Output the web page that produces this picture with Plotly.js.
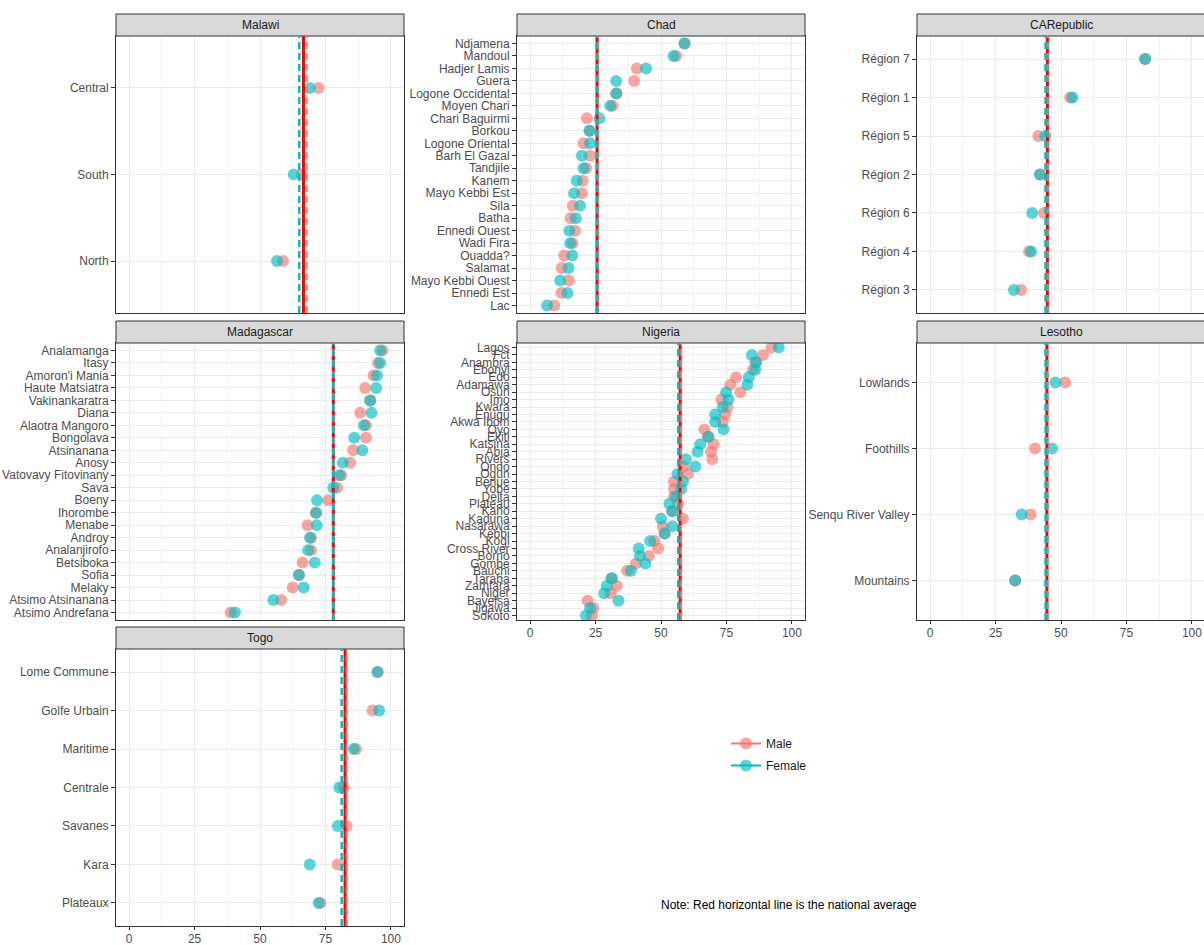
<!DOCTYPE html>
<html><head><meta charset="utf-8">
<script src="https://cdn.plot.ly/plotly-3.0.1.min.js"></script>
<style>html,body{margin:0;padding:0;overflow:hidden;background:#fff}#chart{width:1210px;height:945px}</style>
</head><body><div id="chart"></div>
<script>
// ---------------- DATA ----------------
const countries = ["Malawi","Chad","CARepublic","Madagascar","Nigeria","Lesotho","Togo"];

const malawiRegions = ["Central","South","North"];
const malawiMale    = [72.4, 65.9, 58.8];
const malawiFemale  = [69.0, 62.9, 56.5];

const chadRegions = ["Ndjamena","Mandoul","Hadjer Lamis","Guera","Logone Occidental","Moyen Chari","Chari Baguirmi","Borkou","Logone Oriental","Barh El Gazal","Tandjile","Kanem","Mayo Kebbi Est","Sila","Batha","Ennedi Ouest","Wadi Fira","Ouadda?","Salamat","Mayo Kebbi Ouest","Ennedi Est","Lac"];
const chadMale   = [59.0, 55.8, 40.8, 39.8, 33.0, 31.5, 21.7, 22.7, 20.4, 22.9, 21.4, 20.1, 19.8, 16.3, 15.5, 17.2, 16.2, 13.0, 12.1, 14.8, 12.0, 9.2];
const chadFemale = [59.0, 54.8, 44.3, 32.9, 32.9, 30.6, 26.5, 22.7, 22.9, 19.8, 20.4, 17.8, 16.8, 19.1, 17.5, 15.0, 15.3, 16.1, 14.7, 11.5, 14.3, 6.5];

const carRegions = ["Région 7","Région 1","Région 5","Région 2","Région 6","Région 4","Région 3"];
const carMale    = [82.0, 53.5, 41.3, 42.0, 43.5, 37.8, 34.8];
const carFemale  = [82.2, 54.4, 44.0, 42.0, 39.0, 38.6, 32.0];

const madagascarRegions = ["Analamanga","Itasy","Amoron'i Mania","Haute Matsiatra","Vakinankaratra","Diana","Alaotra Mangoro","Bongolava","Atsinanana","Anosy","Vatovavy Fitovinany","Sava","Boeny","Ihorombe","Menabe","Androy","Analanjirofo","Betsiboka","Sofia","Melaky","Atsimo Atsinanana","Atsimo Andrefana"];
const madagascarMale   = [96.8, 95.0, 93.4, 90.2, 92.1, 88.3, 90.5, 90.5, 85.6, 84.4, 81.0, 79.5, 76.1, 71.4, 68.2, 69.5, 69.5, 66.3, 64.9, 62.5, 58.1, 38.8];
const madagascarFemale = [95.9, 95.9, 94.7, 94.4, 92.1, 92.6, 89.7, 86.0, 89.1, 81.6, 80.3, 78.0, 71.8, 71.4, 71.7, 69.1, 68.4, 70.9, 64.9, 66.7, 55.1, 40.4];

const nigeriaRegions = ["Lagos","Fct","Anambra","Ebonyi","Edo","Adamawa","Osun","Imo","Kwara","Enugu","Akwa Ibom","Oyo","Ekiti","Katsina","Abia","Rivers","Ondo","Ogun","Benue","Yobe","Delta","Plateau","Kano","Kaduna","Nasarawa","Kebbi","Kogi","Cross River","Borno","Gombe","Bauchi","Taraba","Zamfara","Niger","Bayelsa","Jigawa","Sokoto"];
const nigeriaMale   = [92.2, 89.0, 86.0, 85.1, 78.7, 76.5, 80.3, 73.1, 75.4, 74.6, 73.6, 66.6, 67.8, 70.1, 69.1, 69.6, 58.6, 60.3, 55.0, 55.0, 55.0, 56.5, 54.2, 58.4, 50.7, 51.4, 47.5, 48.9, 45.4, 40.4, 37.1, 31.0, 33.1, 30.8, 22.0, 24.2, 23.6];
const nigeriaFemale = [95.0, 84.7, 86.4, 86.0, 83.5, 83.0, 74.9, 75.8, 73.6, 70.7, 70.7, 73.9, 68.2, 65.0, 64.0, 59.5, 63.1, 56.3, 58.4, 57.7, 55.8, 53.2, 54.4, 50.0, 54.4, 51.4, 45.9, 41.5, 42.0, 44.0, 38.5, 31.3, 29.3, 28.3, 33.8, 22.9, 21.3];

const lesothoRegions = ["Lowlands","Foothills","Senqu River Valley","Mountains"];
const lesothoMale    = [51.6, 40.1, 38.4, 32.5];
const lesothoFemale  = [47.9, 46.6, 35.0, 32.5];

const togoRegions = ["Lome Commune","Golfe Urbain","Maritime","Centrale","Savanes","Kara","Plateaux"];
const togoMale    = [94.9, 93.0, 86.7, 81.9, 83.1, 79.7, 73.1];
const togoFemale  = [94.9, 95.5, 85.8, 80.3, 79.7, 69.0, 72.4];

const nationalAvg = [66.6, 25.6, 44.8, 78.0, 57.3, 44.6, 82.5];
const maleAvg     = [67.8, 25.7, 44.9, 78.1, 57.6, 44.9, 83.1];
const femaleAvg   = [65.0, 25.5, 44.1, 78.0, 56.6, 44.1, 81.2];

const xTicks = [0, 25, 50, 75, 100];
const xTickText = ["0", "25", "50", "75", "100"];
const xMinor = [12.5, 37.5, 62.5, 87.5];
const legendNames = ["Male", "Female"];
const noteText = "Note: Red horizontal line is the national average";

const regionsBy = [malawiRegions, chadRegions, carRegions, madagascarRegions, nigeriaRegions, lesothoRegions, togoRegions];
const maleBy    = [malawiMale, chadMale, carMale, madagascarMale, nigeriaMale, lesothoMale, togoMale];
const femaleBy  = [malawiFemale, chadFemale, carFemale, madagascarFemale, nigeriaFemale, lesothoFemale, togoFemale];

// ---------------- LAYOUT CONSTANTS ----------------
const W = 1210, H = 945;
const colLeft = [116, 517, 917];
const rowTop = [36, 343, 649];
const panelW = 288, panelH = 277, stripH = 22;
const panelCol = [0, 1, 2, 0, 1, 2, 0];
const panelRow = [0, 0, 0, 1, 1, 1, 2];
const showXLabels = [false, false, false, false, true, true, true];

const MALE = '#F8766D', FEMALE = '#00BFC4';
const FONT = 'Liberation Sans, Arial, sans-serif';
const TICKFS = 12;

const traces = [];
const layout = {
  width: W, height: H,
  margin: {l: 0, r: 0, t: 0, b: 0},
  paper_bgcolor: '#fff', plot_bgcolor: '#fff',
  font: {family: FONT, size: TICKFS, color: '#4D4D4D'},
  showlegend: true,
  legend: {x: 726 / W, y: 1 - 729 / H, xanchor: 'left', yanchor: 'top',
           font: {family: FONT, size: TICKFS, color: '#1A1A1A'},
           bgcolor: 'rgba(0,0,0,0)', itemwidth: 30, tracegroupgap: 3},
  shapes: [], annotations: []
};

countries.forEach((c, i) => {
  const k = i + 1;
  const xs = k === 1 ? '' : String(k);
  const xName = 'x' + xs, yName = 'y' + xs;
  const left = colLeft[panelCol[i]], top = rowTop[panelRow[i]];
  const regs = regionsBy[i];
  const n = regs.length;

  layout['xaxis' + xs] = {
    domain: [left / W, (left + panelW) / W], anchor: yName,
    range: [-5, 105], tickmode: 'array', tickvals: xTicks, ticktext: xTickText,
    showticklabels: showXLabels[i], ticks: showXLabels[i] ? 'outside' : '',
    ticklen: 3, tickwidth: 1, tickcolor: '#333333', ticklabelstandoff: -1,
    tickfont: {family: FONT, size: TICKFS, color: '#4D4D4D'},
    showgrid: true, gridcolor: '#EBEBEB', gridwidth: 1,
    minor: {tickmode: 'array', tickvals: xMinor, showgrid: true, gridcolor: '#F3F3F3', gridwidth: 1, ticks: ''},
    zeroline: false, showline: true, mirror: true, linecolor: '#333333', linewidth: 1,
    fixedrange: true
  };
  layout['yaxis' + xs] = {
    domain: [1 - (top + panelH) / H, 1 - top / H], anchor: xName,
    type: 'category', categoryorder: 'array', categoryarray: regs,
    tickmode: 'array', tickvals: regs, ticktext: regs,
    range: [n - 0.4, -0.6],
    ticks: 'outside', ticklen: 4, tickwidth: 1, tickcolor: '#333333',
    tickfont: {family: FONT, size: TICKFS, color: '#4D4D4D'},
    showgrid: true, gridcolor: '#EBEBEB', gridwidth: 1,
    zeroline: false, showline: true, mirror: true, linecolor: '#333333', linewidth: 1,
    fixedrange: true
  };

  traces.push({type: 'scatter', mode: 'markers', x: maleBy[i], y: regs, xaxis: xName, yaxis: yName,
    marker: {color: MALE, size: 12, opacity: 0.65, line: {width: 0}}, showlegend: false, name: 'Male'});
  traces.push({type: 'scatter', mode: 'markers', x: femaleBy[i], y: regs, xaxis: xName, yaxis: yName,
    marker: {color: FEMALE, size: 12, opacity: 0.65, line: {width: 0}}, showlegend: false, name: 'Female'});

  // strip
  layout.shapes.push({type: 'rect', xref: xName + ' domain', yref: 'paper',
    x0: 0, x1: 1, y0: 1 - top / H, y1: 1 - (top - stripH) / H,
    fillcolor: '#D9D9D9', line: {color: '#333333', width: 1}, layer: 'above'});
  layout.annotations.push({xref: xName + ' domain', yref: 'paper', x: 0.5, y: 1 - (top - stripH / 2) / H,
    text: c, showarrow: false, xanchor: 'center', yanchor: 'middle',
    font: {family: FONT, size: TICKFS, color: '#1A1A1A'}});

  // average lines
  layout.shapes.push({type: 'line', xref: xName, yref: yName + ' domain',
    x0: nationalAvg[i], x1: nationalAvg[i], y0: 0, y1: 1,
    line: {color: '#FF0000', width: 3}, layer: 'above'});
  layout.shapes.push({type: 'line', xref: xName, yref: yName + ' domain',
    x0: maleAvg[i], x1: maleAvg[i], y0: 0, y1: 1,
    line: {color: MALE, width: 2.5, dash: '7px,4px'}, opacity: 0.85, layer: 'above'});
  layout.shapes.push({type: 'line', xref: xName, yref: yName + ' domain',
    x0: femaleAvg[i], x1: femaleAvg[i], y0: 0, y1: 1,
    line: {color: FEMALE, width: 2.5, dash: '7px,4px'}, layer: 'above'});
});

// legend-only entries
[MALE, FEMALE].forEach((col, j) => {
  traces.push({type: 'scatter', mode: 'lines+markers', x: [null], y: [null], xaxis: 'x', yaxis: 'y',
    name: legendNames[j], legendgroup: legendNames[j], line: {color: col, width: 2},
    marker: {color: col, size: 12, opacity: 0.65}, showlegend: true, hoverinfo: 'skip'});
});

layout.annotations.push({xref: 'paper', yref: 'paper', x: 789 / W, y: 1 - 905 / H,
  text: noteText, showarrow: false, xanchor: 'center', yanchor: 'middle',
  font: {family: FONT, size: TICKFS, color: '#000000'}});

Plotly.newPlot('chart', traces, layout, {displayModeBar: false, staticPlot: true});
</script></body></html>
